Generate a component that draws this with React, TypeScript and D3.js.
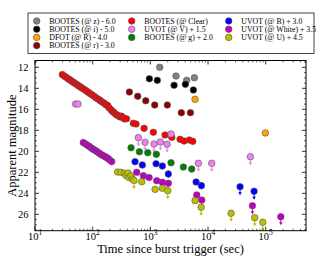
import React from 'react';
import * as d3 from 'd3';

// ---------- data ----------
const grayT = [1455, 2790, 4270, 5800];
const grayM = [12.0, 12.83, 13.24, 12.99];

const blackT = [962, 1320, 2580, 4045, 5570];
const blackM = [13.09, 13.24, 13.71, 13.62, 14.16];

const orangeT = [5960, 98900];
const orangeM = [15.05, 18.25];

const darkredT = [433, 604, 832, 1190, 1972, 3450, 4950];
const darkredM = [14.35, 14.76, 15.18, 15.59, 15.59, 16.32, 16.32];

const redT = [29.8, 32.5, 35.2, 38.1, 40.4, 42.9, 45.6, 48.4, 51.4, 54.6, 57.9, 61.5, 65.3, 70.8, 76.7, 83, 89.9, 97.4, 105.5, 114, 124, 134, 142, 151, 161, 171, 181, 192, 208, 221, 234, 249, 264, 281, 298, 316, 336, 357, 386, 507, 565, 778, 1127, 1800, 2350, 3275, 3845, 4750, 5435];
const redM = [12.70, 12.85, 12.98, 13.11, 13.20, 13.30, 13.40, 13.50, 13.59, 13.69, 13.79, 13.88, 13.98, 14.10, 14.22, 14.36, 14.49, 14.62, 14.75, 14.90, 15.02, 15.15, 15.25, 15.35, 15.45, 15.58, 15.62, 15.85, 16.05, 16.20, 16.30, 16.45, 16.55, 16.62, 16.72, 16.65, 16.80, 16.92, 16.90, 17.33, 17.40, 17.81, 18.19, 18.45, 18.67, 18.86, 19.02, 18.92, 19.05];

const violetT = [50.4, 55.7, 620, 810, 1160, 1493, 1950, 2286, 6810, 11600, 54300];
const violetM = [15.5, 15.5, 18.7, 19.14, 19.3, 19.11, 19.33, 18.35, 21.14, 21.14, 20.51];
const violetUL = [0, 0, 1, 1, 1, 1, 1, 0, 1, 1, 1];

const greenT = [463, 646, 902, 1271, 2286, 3740, 5220];
const greenM = [19.66, 20.04, 20.13, 20.29, 21.09, 21.5, 21.69];

const blueT = [543, 726, 1256, 1616, 2050, 6210, 7680, 35900, 62900];
const blueM = [20.99, 21.3, 21.18, 21.4, 22.16, 22.92, 23.27, 23.37, 23.81];
const blueErr = [0, 0.3, 0, 0, 0.35, 0, 0.35, 0, 0];
const blueUL = [0, 0, 0, 0, 0, 0, 0, 1, 1];

const magentaT = [68.8, 75.2, 81.5, 88.2, 95.5, 103.5, 112, 121, 131.5, 142, 154, 167, 181, 196, 214, 581, 757, 950, 1290, 1616, 2050, 6380, 7800, 58900, 183000];
const magentaM = [19.17, 19.3, 19.43, 19.55, 19.7, 19.82, 19.93, 20.06, 20.2, 20.32, 20.43, 20.53, 20.65, 20.8, 20.98, 22.0, 22.32, 22.5, 22.8, 22.95, 23.05, 24.16, 24.64, 25.18, 26.23];
const magentaUL = [0, 0, 0, 0, 0, 0, 0, 0, 0, 0, 0, 0, 0, 0, 0, 0, 0, 0, 0, 0, 0, 0, 1, 1, 1];

const oliveT = [270, 310, 357, 379, 410, 426, 462, 491, 521, 710, 1208, 1616, 2005, 5960, 7590, 25100, 64600, 89100];
const oliveM = [21.97, 22.0, 22.1, 22.3, 22.07, 22.5, 22.35, 22.64, 22.78, 22.9, 23.62, 23.52, 23.75, 24.7, 25.33, 25.9, 26.32, 26.76];
const oliveUL = [0, 0, 0, 0, 0, 0, 0, 0, 1, 0, 0, 0, 1, 0, 1, 1, 1, 1];

const legendLabels = [
  'BOOTES (@ z) - 6.0', 'BOOTES (@ i) - 5.0', 'DFOT (@ R) - 4.0', 'BOOTES (@ r) - 3.0',
  'BOOTES (@ Clear)', 'UVOT (@ V) + 1.5', 'BOOTES (@ g) + 2.0',
  'UVOT (@ B) + 3.0', 'UVOT (@ White) + 3.5', 'UVOT (@ U) + 4.5',
];
const colors = ['#808080', '#000000', '#ffa500', '#8b0000', '#ff0000', '#ee82ee', '#008000', '#0000ff', '#bf00bf', '#bfbf00'];

const xTickExps = [1, 2, 3, 4, 5];
const yTicks = [12, 14, 16, 18, 20, 22, 24, 26];

// ---------- layout ----------
const W = 330, H = 264;
const L = 35, R = 306, T = 60.5, B = 230.7;
const FONT = '"Liberation Serif", "Times New Roman", serif';

const x = d3.scaleLog().domain([10, 5e5]).range([L, R]);
const y = d3.scaleLinear().domain([11.35, 27.56]).range([T, B]);

type Series = { t: number[]; m: number[]; err?: number[]; ul?: number[] };
const series: Series[] = [
  { t: grayT, m: grayM },
  { t: blackT, m: blackM },
  { t: orangeT, m: orangeM },
  { t: darkredT, m: darkredM },
  { t: redT, m: redM },
  { t: violetT, m: violetM, ul: violetUL },
  { t: greenT, m: greenM },
  { t: blueT, m: blueM, err: blueErr, ul: blueUL },
  { t: magentaT, m: magentaM, ul: magentaUL },
  { t: oliveT, m: oliveM, ul: oliveUL },
];

const MR = 3.3;

export default function App() {
  const minorX: number[] = [];
  for (let e = 1; e <= 5; e++) for (let k = 2; k <= 9; k++) { const v = k * Math.pow(10, e); if (v <= 5e5) minorX.push(v); }
  const minorY: number[] = [];
  for (let v = 11.5; v <= 27.5; v += 0.5) if (v % 2 !== 0) minorY.push(v);

  const legendCols = [[0, 1, 2, 3], [4, 5, 6], [7, 8, 9]];
  const colMarkerX = [36.7, 131.7, 228.7];
  const rowY = [21, 29.2, 37.4, 45.6];

  return (
    <svg width={W} height={H} style={{ position: 'absolute', left: 0, top: 0, background: '#fff' }} fontFamily={FONT}>
      <defs>
        <clipPath id="plotclip"><rect x={L} y={T} width={R - L} height={B - T} /></clipPath>
      </defs>
      <rect x={0} y={0} width={W} height={H} fill="#fff" />
      {/* data */}
      <g clipPath="url(#plotclip)">
        {series.map((s, si) => (
          <g key={si}>
            {s.t.map((t, i) => {
              const cx = x(t), cy = y(s.m[i]);
              const c = colors[si];
              return (
                <g key={i}>
                  {s.err && s.err[i] > 0 && (
                    <line x1={cx} x2={cx} y1={y(s.m[i] - s.err[i])} y2={y(s.m[i] + s.err[i])} stroke={c} strokeWidth={1} />
                  )}
                  {s.ul && s.ul[i] === 1 && (
                    <g>
                      <line x1={cx} x2={cx} y1={cy} y2={cy + 7} stroke={c} strokeWidth={1} />
                      <path d={`M${cx - 1.8},${cy + 5.5} L${cx + 1.8},${cy + 5.5} L${cx},${cy + 8.5} Z`} fill={c} />
                    </g>
                  )}
                  <circle cx={cx} cy={cy} r={MR} fill={c} stroke="#555" strokeWidth={0.6} />
                </g>
              );
            })}
          </g>
        ))}
      </g>
      {/* frame */}
      <rect x={L} y={T} width={R - L} height={B - T} fill="none" stroke="#000" strokeWidth={1} />
      {/* x ticks */}
      {xTickExps.map((e) => {
        const px = x(Math.pow(10, e));
        return (
          <g key={'xt' + e}>
            <line x1={px} x2={px} y1={B} y2={B - 4} stroke="#000" strokeWidth={0.8} />
            <line x1={px} x2={px} y1={T} y2={T + 4} stroke="#000" strokeWidth={0.8} />
            <text x={px} y={239.5} fontSize={10.5} textAnchor="middle">
              10<tspan dy={-4.5} fontSize={7.5}>{e}</tspan>
            </text>
          </g>
        );
      })}
      {minorX.map((v, i) => {
        const px = x(v);
        return (
          <g key={'xm' + i}>
            <line x1={px} x2={px} y1={B} y2={B - 2} stroke="#000" strokeWidth={0.6} />
            <line x1={px} x2={px} y1={T} y2={T + 2} stroke="#000" strokeWidth={0.6} />
          </g>
        );
      })}
      {/* y ticks */}
      {yTicks.map((v) => {
        const py = y(v);
        return (
          <g key={'yt' + v}>
            <line x1={L} x2={L + 4} y1={py} y2={py} stroke="#000" strokeWidth={0.8} />
            <line x1={R} x2={R - 4} y1={py} y2={py} stroke="#000" strokeWidth={0.8} />
            <text x={28.5} y={py} dy="0.35em" fontSize={10.5} textAnchor="end">{v}</text>
          </g>
        );
      })}
      {minorY.map((v, i) => {
        const py = y(v);
        return (
          <g key={'ym' + i}>
            <line x1={L} x2={L + 2} y1={py} y2={py} stroke="#000" strokeWidth={0.6} />
            <line x1={R} x2={R - 2} y1={py} y2={py} stroke="#000" strokeWidth={0.6} />
          </g>
        );
      })}
      {/* axis labels */}
      <text x={(L + R) / 2} y={253} fontSize={12.5} textAnchor="middle">Time since burst trigger (sec)</text>
      <text transform={`translate(16,${(T + B) / 2}) rotate(-90)`} fontSize={12.5} textAnchor="middle">Apparent magnitude</text>
      {/* legend */}
      <rect x={28} y={13} width={286} height={40.5} fill="#fff" stroke="#444" strokeWidth={1} />
      {legendCols.map((col, ci) =>
        col.map((si, ri) => (
          <g key={'lg' + si}>
            <circle cx={colMarkerX[ci]} cy={rowY[ri]} r={MR} fill={colors[si]} stroke="#555" strokeWidth={0.6} />
            <text x={colMarkerX[ci] + 12.6} y={rowY[ri]} dy="0.35em" fontSize={7.8}>{legendLabels[si]}</text>
          </g>
        ))
      )}
    </svg>
  );
}
